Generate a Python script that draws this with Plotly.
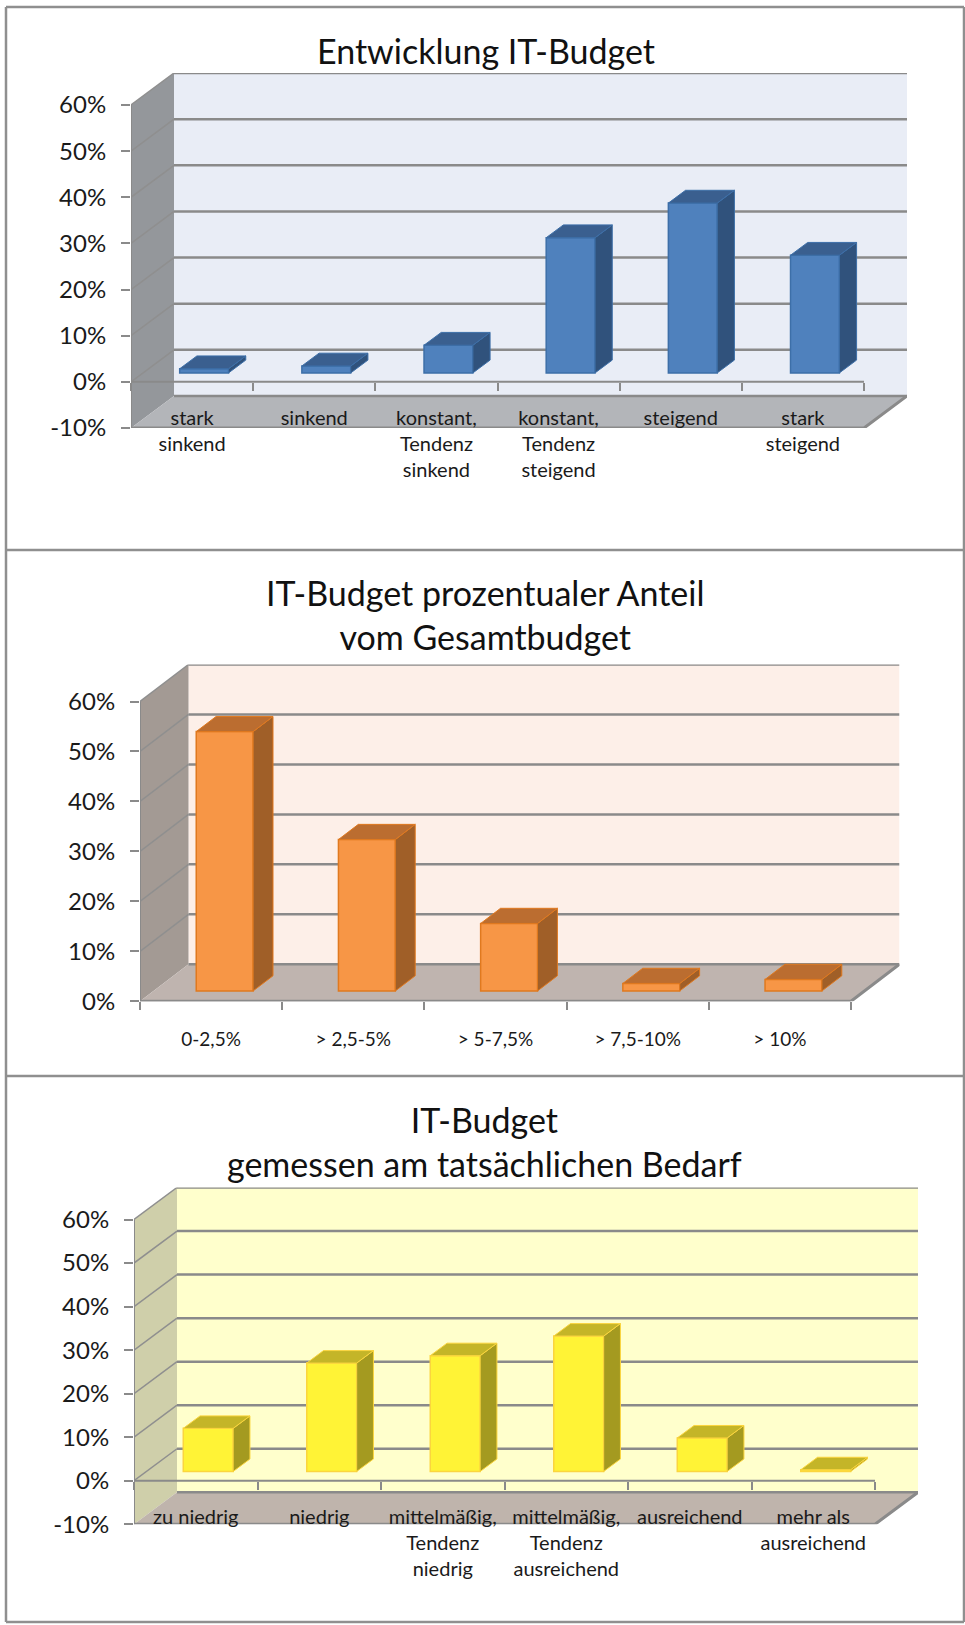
import plotly.graph_objects as go

W, H = 965, 1625
FONT = "Lato"

# ---- data ----
cats_entwicklung = ["stark<br>sinkend", "sinkend", "konstant,<br>Tendenz<br>sinkend",
                    "konstant,<br>Tendenz<br>steigend", "steigend", "stark<br>steigend"]
vals_entwicklung = [0.9, 1.5, 6.0, 29.3, 36.8, 25.5]

cats_anteil = ["0-2,5%", "> 2,5-5%", "> 5-7,5%", "> 7,5-10%", "> 10%"]
vals_anteil = [51.9, 30.3, 13.5, 1.5, 2.3]

cats_bedarf = ["zu niedrig", "niedrig", "mittelmäßig,<br>Tendenz<br>niedrig",
               "mittelmäßig,<br>Tendenz<br>ausreichend", "ausreichend", "mehr als<br>ausreichend"]
vals_bedarf = [9.9, 24.9, 26.6, 31.1, 7.7, 0.4]

titles = ["Entwicklung IT-Budget",
          "IT-Budget prozentualer Anteil<br>vom Gesamtbudget",
          "IT-Budget<br>gemessen am tatsächlichen Bedarf"]

# ---- layout per chart ----
charts = [
    dict(cats=cats_entwicklung, vals=vals_entwicklung, title=titles[0], title_y=50, title_x=485.5,
         left=131, right=864, y60=105, ybot=428, ymin=-10, dx=43, dy=32, catsize=20, standoff=22,
         width=0.40, d0=0.28, depth=0.40,
         back="#e9edf6", side="#94979b", floor="#b3b5b9", front="#4f81bd", edge="#3d6fa8",
         bside="#30527c", btop="#3a5f8f"),
    dict(cats=cats_anteil, vals=vals_anteil, title=titles[1], title_y=615, title_x=485,
         left=140, right=851, y60=701.5, ybot=1001.3, ymin=0, dx=48.5, dy=37, catsize=19, standoff=25,
         width=0.40, d0=0.28, depth=0.41,
         back="#fdefe8", side="#a39a94", floor="#bfb4af", front="#f79646", edge="#e0791f",
         bside="#a05f28", btop="#bb6d30"),
    dict(cats=cats_bedarf, vals=vals_bedarf, title=titles[2], title_y=1141.5, title_x=484.6,
         left=134, right=875, y60=1219.5, ybot=1524.3, ymin=-10, dx=43, dy=32, catsize=20, standoff=22,
         width=0.404, d0=0.29, depth=0.39,
         back="#ffffcc", side="#cfcfaa", floor="#bfb4ac", front="#fff336", edge="#fbd53e",
         bside="#a49a20", btop="#c4b528"),
]
panel_lines = [7, 550, 1076, 1622]
GRID = "#8a8a8a"
GRID_SIDE = "#8f8f8f"
TEXT = "#1a1a1a"

fig = go.Figure()
shapes, annotations = [], []
layout = {}


def poly(pts):
    return "M " + " L ".join(f"{x} {y}" for x, y in pts) + " Z"


for k, c in enumerate(charts):
    n = len(c["cats"])
    sfx = "" if k == 0 else str(k + 1)
    xid, yid = "x" + sfx, "y" + sfx
    oid = "x" + str(k + 4)
    slot = (c["right"] - c["left"]) / n
    step = (c["ybot"] - c["y60"]) / (60 - c["ymin"])  # px per percentage point
    dxu, dyu = c["dx"] / slot, c["dy"] / step
    x0, x1 = -0.5, n - 0.5
    xtop = x1 + dxu
    ytop = 60 + dyu
    ymin = c["ymin"]
    xdom = [c["left"] / W, (c["right"] + c["dx"]) / W]
    ydom = [1 - c["ybot"] / H, 1 - (c["y60"] - c["dy"]) / H]

    layout["xaxis" + sfx] = dict(domain=xdom, range=[x0, xtop], visible=False, anchor=yid, fixedrange=True)
    layout["yaxis" + sfx] = dict(domain=ydom, range=[ymin, ytop], anchor=xid, showgrid=False, zeroline=False,
                                 showline=False, ticks="outside", ticklen=9, tickwidth=2, tickcolor=GRID,
                                 tickvals=list(range(ymin, 61, 10)),
                                 ticktext=[f"{v}%" for v in range(ymin, 61, 10)],
                                 tickfont=dict(family=FONT, size=24, color=TEXT),
                                 ticklabelstandoff=10, fixedrange=True)
    axis_pos = 1 - (c["ybot"] - (0 - ymin) * step) / H
    layout["xaxis" + str(k + 4)] = dict(domain=xdom, overlaying=xid, anchor="free", position=axis_pos,
                                        type="category", categoryorder="array", categoryarray=c["cats"],
                                        range=[x0, xtop], tickson="boundaries", ticks="outside", ticklen=8,
                                        tickwidth=2, tickcolor=GRID, showgrid=False, zeroline=False,
                                        showline=False, tickangle=0,
                                        tickfont=dict(family=FONT, size=c["catsize"], color=TEXT),
                                        ticklabelstandoff=c["standoff"], fixedrange=True, side="bottom")

    def shape(path=None, fill=None, line=None, lw=0):
        shapes.append(dict(type="path", path=path, xref=xid, yref=yid, layer="below",
                           fillcolor=fill if fill else "rgba(0,0,0,0)",
                           line=dict(color=line if line else "rgba(0,0,0,0)", width=lw)))

    # walls and floor
    shape(poly([(x0 + dxu, ymin + dyu), (xtop, ymin + dyu), (xtop, ytop), (x0 + dxu, ytop)]), c["back"])
    shape(poly([(x0, ymin), (x0 + dxu, ymin + dyu), (x0 + dxu, ytop), (x0, 60)]), c["side"])
    shape(poly([(x0, ymin), (x1, ymin), (xtop, ymin + dyu), (x0 + dxu, ymin + dyu)]), c["floor"])
    # gridlines on the walls
    for v in range(ymin, 61, 10):
        lw = 2.5
        if v > ymin:
            shape(f"M {x0} {v} L {x0 + dxu} {v + dyu}", None, GRID_SIDE, 1.5)
        shape(f"M {x0 + dxu} {v + dyu} L {xtop} {v + dyu}", None, GRID, lw)
    # front edges and axis line
    shape(f"M {x0} {ymin} L {x0} 60", None, GRID, 2)
    shape(f"M {x0} {ymin} L {x1} {ymin} L {xtop} {ymin + dyu}", None, GRID, 3)
    shape(f"M {x0} 0 L {x1} 0", None, GRID, 2)

    # bars
    xs = list(range(n))
    fx = c["d0"] * dxu - c["width"] / 2
    fig.add_trace(go.Bar(x=xs, y=c["vals"], base=[c["d0"] * dyu] * n, offset=fx, width=c["width"],
                         marker=dict(color=c["front"], line=dict(color=c["edge"], width=1.5)),
                         xaxis=xid, yaxis=yid, showlegend=False, hoverinfo="skip"))
    d0, d1 = c["d0"], c["d0"] + c["depth"]
    for i, v in zip(xs, c["vals"]):
        lft = i + fx
        rgt = lft + c["width"]
        b0, b1 = d0 * dyu, d1 * dyu
        ox = c["depth"] * dxu
        # side face
        fig.add_trace(go.Scatter(
            x=[rgt, rgt + ox, rgt + ox, rgt, rgt], y=[b0, b1, b1 + v, b0 + v, b0],
            mode="lines", fill="toself", fillcolor=c["bside"], line=dict(color=c["edge"], width=1),
            xaxis=xid, yaxis=yid, showlegend=False, hoverinfo="skip"))
        # top face
        fig.add_trace(go.Scatter(
            x=[lft, rgt, rgt + ox, lft + ox, lft], y=[b0 + v, b0 + v, b1 + v, b1 + v, b0 + v],
            mode="lines", fill="toself", fillcolor=c["btop"], line=dict(color=c["edge"], width=1),
            xaxis=xid, yaxis=yid, showlegend=False, hoverinfo="skip"))

    # invisible trace that gives the category axis its labels
    fig.add_trace(go.Scatter(x=c["cats"], y=c["vals"], mode="markers", marker=dict(opacity=0),
                             xaxis=oid, yaxis=yid, showlegend=False, hoverinfo="skip"))

    annotations.append(dict(text=c["title"], x=c["title_x"] / W, y=1 - c["title_y"] / H, xref="paper", yref="paper",
                            xanchor="center", yanchor="middle", showarrow=False, align="center",
                            font=dict(family=FONT, size=34, color="#111111")))

# panel frame
for y in panel_lines:
    shapes.append(dict(type="line", xref="paper", yref="paper", x0=6 / W, x1=964 / W, y0=1 - y / H, y1=1 - y / H,
                       layer="below", line=dict(color="#8f8f8f", width=2.5)))
for x in [6, 964]:
    shapes.append(dict(type="line", xref="paper", yref="paper", x0=x / W, x1=x / W, y0=1 - 7 / H, y1=1 - 1622 / H,
                       layer="below", line=dict(color="#8f8f8f", width=2.5)))

fig.update_layout(width=W, height=H, margin=dict(l=0, r=0, t=0, b=0, pad=0, autoexpand=False),
                  paper_bgcolor="white", plot_bgcolor="rgba(0,0,0,0)",
                  shapes=shapes, annotations=annotations, showlegend=False, barmode="overlay", **layout)
fig.write_html("out.html", config=dict(displayModeBar=False),
               post_script="document.body.style.margin='0';document.documentElement.style.overflow='hidden';")
